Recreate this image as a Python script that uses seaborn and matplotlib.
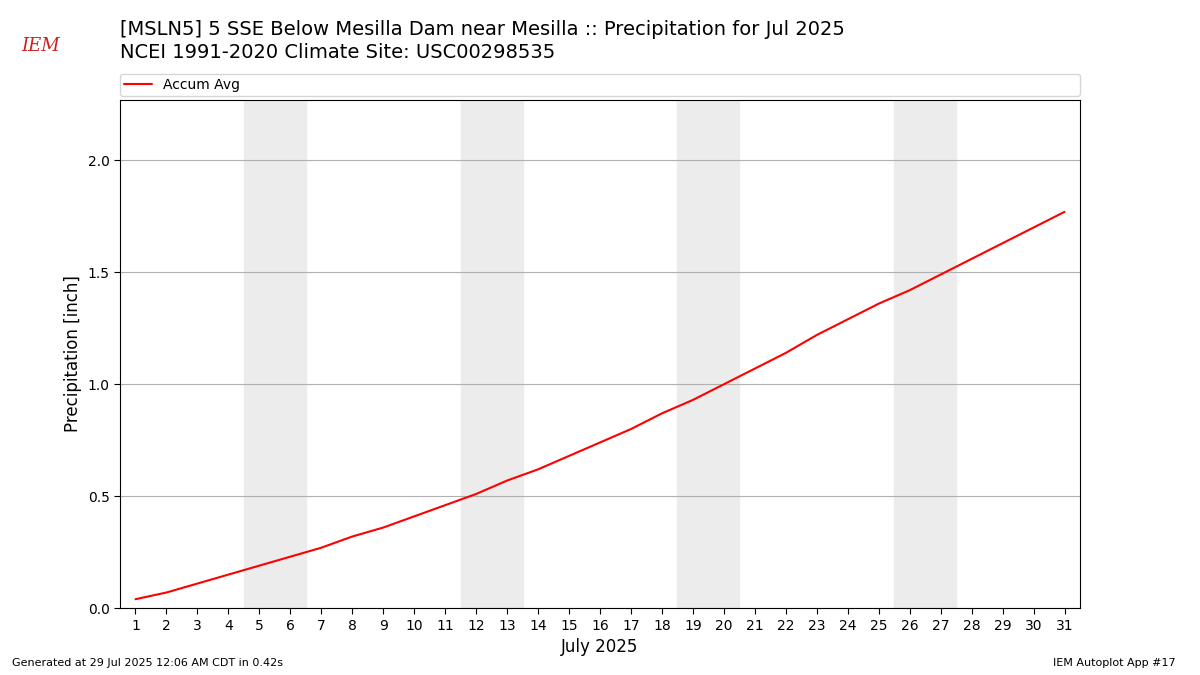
import matplotlib
matplotlib.use("Agg")
import matplotlib.pyplot as plt
import seaborn as sns
import pandas as pd

days = list(range(1, 32))
accum_avg = [0.04, 0.07, 0.11, 0.15, 0.19, 0.23, 0.27, 0.32, 0.36, 0.41, 0.46,
             0.51, 0.57, 0.62, 0.68, 0.74, 0.80, 0.87, 0.93, 1.00, 1.07, 1.14,
             1.22, 1.29, 1.36, 1.42, 1.49, 1.56, 1.63, 1.70, 1.77]
weekend_starts = [5, 12, 19, 26]

sns.set_style("white")
plt.rcParams['font.family'] = ['DejaVu Sans']
plt.rcParams['text.color'] = 'black'
plt.rcParams['axes.labelcolor'] = 'black'
plt.rcParams['xtick.color'] = 'black'
plt.rcParams['ytick.color'] = 'black'
fig = plt.figure(figsize=(12, 6.75), dpi=100)
ax = fig.add_axes([0.1, 0.099, 0.8, 0.753])
for s in weekend_starts:
    ax.axvspan(s - 0.5, s + 1.5, color="#ececec", zorder=0)
df = pd.DataFrame({"day": days, "v": accum_avg})
sns.lineplot(data=df, x="day", y="v", color="red", ax=ax, label="Accum Avg", zorder=3)
ax.set_xlim(0.5, 31.5)
ax.set_ylim(0, 2.27)
ax.set_xticks(days)
ax.set_yticks([0, 0.5, 1.0, 1.5, 2.0])
ax.yaxis.grid(True, color="#b0b0b0", lw=0.8)
ax.set_xlabel("July 2025", fontsize=12)
ax.set_ylabel("Precipitation [inch]", fontsize=12)
ax.tick_params(axis="both", length=4, left=True, bottom=True)
for sp in ax.spines.values():
    sp.set_color("black")
ax.legend(loc="lower left", bbox_to_anchor=(0, 1.008, 1, 0.05), mode="expand",
          ncol=1, frameon=True, fontsize=10, borderaxespad=0, borderpad=0.3)
fig.text(0.1, 0.942, "[MSLN5] 5 SSE Below Mesilla Dam near Mesilla :: Precipitation for Jul 2025",
         fontsize=14, va="bottom")
fig.text(0.1, 0.908, "NCEI 1991-2020 Climate Site: USC00298535", fontsize=14, va="bottom")
fig.text(0.01, 0.013, "Generated at 29 Jul 2025 12:06 AM CDT in 0.42s", fontsize=8)
fig.text(0.98, 0.013, "IEM Autoplot App #17", fontsize=8, ha="right")
fig.text(0.018, 0.925, "IEM", fontsize=13, color="#cc2222", family="DejaVu Serif", style="italic")
fig.savefig("out.png", dpi=100)
